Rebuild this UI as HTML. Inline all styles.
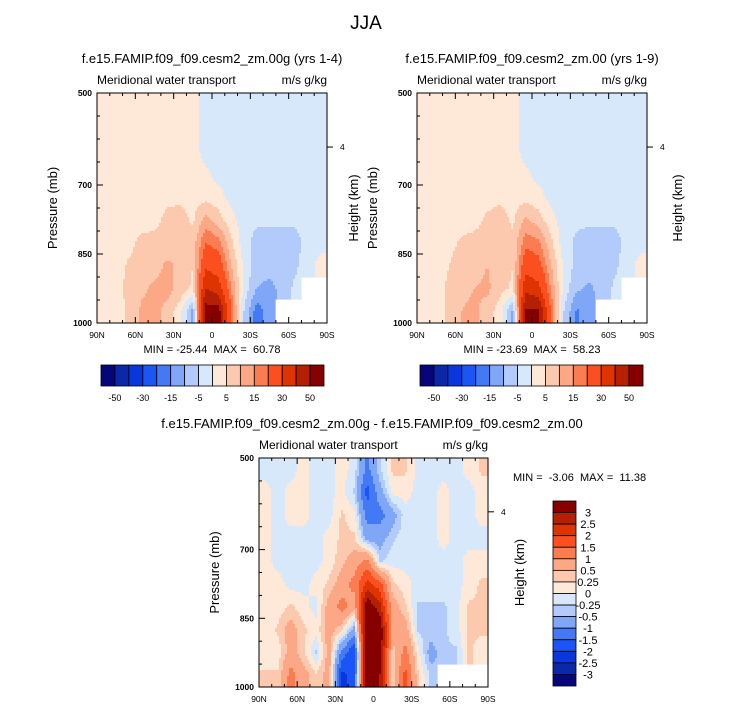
<!DOCTYPE html>
<html><head><meta charset="utf-8">
<style>
html,body{margin:0;padding:0;background:#fff;}
svg{display:block;font-family:"Liberation Sans",Arial,sans-serif;}
</style></head>
<body>
<svg id="chart" width="733" height="712" viewBox="0 0 733 712">
<text x="366" y="29" font-size="19" text-anchor="middle">JJA</text>
</svg>
<script>
// ---- data ----
const latTicks = ["90N","60N","30N","0","30S","60S","90S"];
const presTicks = [500,700,850,1000];
const colLats = [85,75,65,55,45,35,25,15,5,-5,-15,-25,-35,-45,-55,-65,-75,-85];
const rowPres = [525,575,625,675,725,775,825,875,925,975];
const levels1 = [-50,-40,-30,-20,-15,-10,-5,0,5,10,15,20,30,40,50];
const levelLabels1 = ["-50","-30","-15","-5","5","15","30","50"];
const levels3 = [-3,-2.5,-2,-1.5,-1,-0.5,-0.25,0,0.25,0.5,1,1.5,2,2.5,3];
const levelLabels3 = ["3","2.5","2","1.5","1","0.5","0.25","0","-0.25","-0.5","-1","-1.5","-2","-2.5","-3"];
const N = null;
const panel1Values = [
 [2,2,2,2,2,2,2,2,-2,-2,-2,-2,-2,-2,-2,-2,-2,-2],
 [2,2,2,2,2,2,2,2,-2,-2,-2,-2,-2,-2,-2,-2,-2,-2],
 [2,2,2,2,2,2,2,2,-2,-2,-2,-2,-2,-2,-2,-2,-2,-2],
 [2,2,2,2,2,2,2,2,1,-2,-2,-2,-2,-2,-2,-2,-2,-2],
 [2,2,2,2,2,3,4,3,3,2,-2,-2,-2,-2,-2,-2,-2,-2],
 [2,2,2,2,3,7,7,4,12,7,2,-3,-4,-4,-4,-4,-2,-2],
 [2,2,3,7,7,7,10,7,20,17,6,-3,-7,-7,-7,-7,-3,-2],
 [2,2,6,8,8,11,9,5,28,25,10,-1,-8,-7,-7,-6,-2,2],
 [2,3,7,9,11,12,8,4,40,35,15,-2,-10,-12,-8,-4,N,N],
 [2,2,6,11,12,8,2,-12,55,55,20,-5,-18,-12,N,N,N,N]
];
const panel2Values = [
 [2,2,2,2,2,2,2,2,-2,-2,-2,-2,-2,-2,-2,-2,-2,-2],
 [2,2,2,2,2,2,2,2,-2,-2,-2,-2,-2,-2,-2,-2,-2,-2],
 [2,2,2,2,2,2,2,2,-2,-2,-2,-2,-2,-2,-2,-2,-2,-2],
 [2,2,2,2,2,2,2,2,1,-2,-2,-2,-2,-2,-2,-2,-2,-2],
 [2,2,2,2,2,3,4,3,3,2,-2,-2,-2,-2,-2,-2,-2,-2],
 [2,2,2,2,3,6,7,4,11,7,2,-3,-4,-4,-4,-4,-2,-2],
 [2,2,3,6,7,7,9,6,18,16,6,-3,-6,-7,-7,-7,-3,-2],
 [2,2,5,8,8,10,8,5,26,23,10,-1,-7,-7,-7,-6,-2,2],
 [2,3,6,9,10,11,7,4,37,33,14,-2,-9,-11,-8,-4,N,N],
 [2,2,6,10,11,8,2,-11,52,52,19,-5,-16,-11,N,N,N,N]
];
const panel3Values = [
 [-0.1,-0.1,-0.1,0.1,-0.1,-0.1,0.1,-0.1,-1.2,-0.3,0.3,0.3,-0.1,-0.1,-0.1,-0.1,0.1,0.3],
 [0.1,-0.1,0.1,0.1,-0.1,-0.1,0.1,-0.3,-1.7,-0.7,0.1,0.1,-0.1,-0.1,0.1,-0.1,-0.1,0.1],
 [0.1,-0.1,0.1,0.1,-0.1,-0.1,0.3,0.1,-1.2,-1.2,-0.7,-0.1,-0.1,-0.1,0.1,-0.1,-0.1,0.1],
 [0.1,-0.1,-0.1,-0.1,-0.1,0.1,0.3,0.3,-0.7,-0.7,-0.3,-0.1,-0.1,-0.1,0.1,-0.1,-0.1,-0.1],
 [0.1,-0.1,-0.1,-0.1,-0.1,0.1,0.4,0.7,1.2,-0.3,-0.1,-0.1,-0.1,-0.1,-0.1,-0.1,0.1,0.1],
 [0.1,0.1,-0.1,-0.1,0.1,0.3,0.7,1.2,2.2,1.7,0.3,0.1,-0.1,-0.1,-0.1,-0.1,0.1,0.3],
 [0.1,0.1,0.3,0.1,-0.1,0.7,1.2,0.7,3.5,2.7,0.7,0.3,-0.3,-0.3,-0.3,-0.1,0.3,0.3],
 [0.1,0.3,0.7,0.3,0.1,0.7,0.3,-0.7,4,3.5,0.7,0.7,-0.3,-0.3,-0.3,-0.1,0.3,0.3],
 [0.1,0.1,0.7,0.3,-0.3,0.7,-1.2,-2,4,3.5,0.3,1.2,0.1,-0.7,-0.3,-0.3,0.3,0.1],
 [0.3,0.3,1.2,0.7,0.3,0.7,-2.2,-1.7,4,3,0.3,1.7,0.3,-0.3,N,N,N,N]
];
const colors = ["#06067a","#0a28a8","#0a37dc","#1b55f5","#4479f5","#80a6f7","#b3cbfb","#d7e8fb",
                "#fee8d8","#fdc9ae","#fca886","#fb7c50","#fb4f1f","#de3402","#b51f02","#870000"];

const svg = document.getElementById('chart');
const NS = "http://www.w3.org/2000/svg";
function mk(tag, attrs, parent){ const e=document.createElementNS(NS,tag); for(const k in attrs) e.setAttribute(k,attrs[k]); (parent||svg).appendChild(e); return e; }
function txt(x,y,s,size,anchor,parent,extra){ const t=mk('text',Object.assign({x:x,y:y,'font-size':size,'text-anchor':anchor||'start'},extra||{}),parent); t.textContent=s; return t; }
function colorFor(v, lv){ let i=0; while(i<lv.length && v>=lv[i]) i++; return colors[i]; }

function drawPanel(P){
  const g = mk('g',{});
  
  
  const xS = lat => P.x0 + (90-lat)/180*P.w;
  const yS = p => P.y0 + (p-500)/500*P.h;
  const nc = colLats.length, nr = rowPres.length;
  function val(lat,p){
    const c = (90-lat)/10 - 0.5, r = (p-500)/50 - 0.5;
    const ci = Math.min(nc-1,Math.max(0,Math.round(c))), ri=Math.min(nr-1,Math.max(0,Math.round(r)));
    if (P.data[ri][ci]===null) return null;
    const c0=Math.max(0,Math.min(nc-1,Math.floor(c))), c1=Math.min(nc-1,c0+1);
    const r0=Math.max(0,Math.min(nr-1,Math.floor(r))), r1=Math.min(nr-1,r0+1);
    const fx=Math.max(0,Math.min(1,c-c0)), fy=Math.max(0,Math.min(1,r-r0));
    let s=0,wsum=0;
    [[r0,c0,(1-fx)*(1-fy)],[r0,c1,fx*(1-fy)],[r1,c0,(1-fx)*fy],[r1,c1,fx*fy]].forEach(([a,b,w])=>{
      const v=P.data[a][b]; if(v!==null && w>0){s+=v*w;wsum+=w;}
    });
    return wsum>0? s/wsum : null;
  }
  const step=2;
  const cells = mk('g',{},g);
  
  
  for(let py=0; py<P.h; py+=step){
    const p = 500 + (py+step/2)/P.h*500;
    let runStart=0, runCol=null;
    const flush=(end)=>{ if(runCol){ const r=mk('rect',{x:P.x0+runStart,y:P.y0+py,width:end-runStart+0.6,height:Math.min(step,P.h-py)+0.6,fill:runCol},cells);
      
       } };
    for(let px=0; px<P.w; px+=step){
      const lat = 90 - (px+step/2)/P.w*180;
      const v = val(lat,p);
      const col = v===null? null : colorFor(v,P.levels);
      if(col!==runCol){ flush(px); runStart=px; runCol=col; }
    }
    flush(P.w);
  }
  mk('rect',{x:P.x0,y:P.y0,width:P.w,height:P.h,fill:'none',stroke:'#000','stroke-width':1},g);
  for(let lat=90; lat>=-90; lat-=10){
    const x=xS(lat), major = lat%30===0;
    const L = major?6:3;
    mk('line',{x1:x,y1:P.y0+P.h,x2:x,y2:P.y0+P.h-L,stroke:'#000','stroke-width':1},g);
    mk('line',{x1:x,y1:P.y0,x2:x,y2:P.y0+L,stroke:'#000','stroke-width':1},g);
  }
  latTicks.forEach((s,i)=>{ const t=txt(xS(90-30*i),P.y0+P.h+15,s,8.5,'middle',g);
      });
  for(let p=500;p<=1000;p+=50){ const y=yS(p); mk('line',{x1:P.x0,y1:y,x2:P.x0+(presTicks.includes(p)?6:3),y2:y,stroke:'#000'},g); }
  presTicks.forEach(p=>{ const t=txt(P.x0-5,yS(p)+3,String(p),8.5,'end',g,{'font-weight':'bold'});
      });
  const yh=P.y0+P.h*0.235;
  mk('line',{x1:P.x0+P.w,y1:yh,x2:P.x0+P.w+6,y2:yh,stroke:'#000'},g);
  txt(P.x0+P.w+13,yh+3,"4",8.5,'start',g);
  let t=txt(0,0,"Pressure (mb)",13,'middle',g,{transform:`translate(${P.x0-40},${P.y0+P.h/2}) rotate(-90)`});
   
  t=txt(0,0,"Height (km)",13,'middle',g,{transform:`translate(${P.x0+P.w+P.hOff},${P.y0+P.h/2}) rotate(-90)`});
   
  t=txt(P.x0,P.y0-9,"Meridional water transport",12,'start',g);
   
  t=txt(P.x0+P.w,P.y0-9,"m/s g/kg",12,'end',g);
   
  t=txt(P.titleX,P.titleY,P.title,13,'middle',g);
   
  t=txt(P.mmX,P.mmY,P.minmax,11,P.mmAnchor,g,{style:'white-space:pre'});
   
  return g;
}

function hColorbar(x0,x1,y,h,name){
  const g=mk('g',{});
  
  
  const bw=(x1-x0)/colors.length;
  colors.forEach((c,i)=>{ mk('rect',{x:x0+i*bw,y:y,width:bw,height:h,fill:c,stroke:'#000','stroke-width':0.8},g); });
  levelLabels1.forEach((s,i)=>{ txt(x0+(1+2*i)*bw,y+h+15,s,9,'middle',g); });
}
function vColorbar(x,y0,w,y1,name){
  const g=mk('g',{});
  
  
  const bh=(y1-y0)/colors.length;
  colors.slice().reverse().forEach((c,i)=>{ mk('rect',{x:x,y:y0+i*bh,width:w,height:bh,fill:c,stroke:'#000','stroke-width':0.8},g); });
  levelLabels3.forEach((s,i)=>{ txt(x+w+12,y0+(i+1)*bh+4,s,11,'middle',g); });
}

drawPanel({name:'panel-00g',x0:97,y0:93,w:230,h:230,data:panel1Values,levels:levels1,hOff:31,
  title:"f.e15.FAMIP.f09_f09.cesm2_zm.00g (yrs 1-4)",titleX:212,titleY:63,
  minmax:"MIN = -25.44  MAX =  60.78",mmX:212,mmY:353,mmAnchor:'middle'});
drawPanel({name:'panel-00',x0:417,y0:93,w:230,h:230,data:panel2Values,levels:levels1,hOff:35,
  title:"f.e15.FAMIP.f09_f09.cesm2_zm.00 (yrs 1-9)",titleX:532,titleY:63,
  minmax:"MIN = -23.69  MAX =  58.23",mmX:532,mmY:353,mmAnchor:'middle'});
drawPanel({name:'panel-difference',x0:259,y0:458,w:229,h:229,data:panel3Values,levels:levels3,hOff:36,
  title:"f.e15.FAMIP.f09_f09.cesm2_zm.00g - f.e15.FAMIP.f09_f09.cesm2_zm.00",titleX:372,titleY:428,
  minmax:"MIN =  -3.06  MAX =  11.38",mmX:513,mmY:481,mmAnchor:'start'});
hColorbar(101,324,365,21,'colorbar-panel-00g');
hColorbar(420,643,365,21,'colorbar-panel-00');
vColorbar(553,501,23,686,'colorbar-difference');
</script>
</body></html>
